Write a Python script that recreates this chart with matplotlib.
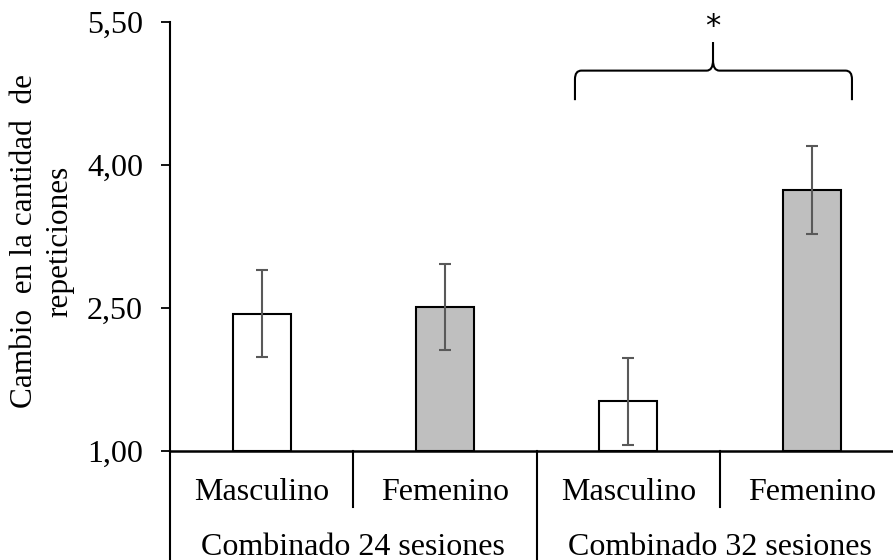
import numpy as np
import matplotlib
matplotlib.use("Agg")
import matplotlib.pyplot as plt
from matplotlib.path import Path
from matplotlib.patches import PathPatch

plt.rcParams["font.family"] = ["Liberation Serif", "DejaVu Serif"]
plt.rcParams["font.size"] = 23

# datos
sexo = ["Masculino", "Femenino", "Masculino", "Femenino"]
grupos = ["Combinado 24 sesiones", "Combinado 32 sesiones"]
medias = [2.44, 2.51, 1.52, 3.74]
errores = [0.455, 0.45, 0.455, 0.46]
colores = ["white", "#bfbfbf", "white", "#bfbfbf"]
yticks = [1.0, 2.5, 4.0, 5.5]

W, H = 893, 560
fig = plt.figure(figsize=(W / 100, H / 100), dpi=100)
ax = fig.add_axes([170 / W, 109 / H, 733.3 / W, 429 / H])

x = np.arange(len(medias))
ax.bar(x, np.array(medias) - 1.0, bottom=1.0, width=0.316, color=colores,
       edgecolor="black", linewidth=1.5, zorder=2)
ax.errorbar(x, medias, yerr=errores, fmt="none", ecolor="#595959",
            elinewidth=1.5, capsize=4.5, capthick=1.5, zorder=3)

ax.set_xlim(-0.5, 3.5)
ax.set_ylim(1.0, 5.5)
ax.set_yticks(yticks)
ax.set_yticklabels([f"{v:.2f}".replace(".", ",") for v in yticks])
ax.tick_params(axis="y", direction="out", length=6.5, width=1.3, pad=13)
ax.set_xticks([])
for s in ["top", "right"]:
    ax.spines[s].set_visible(False)
ax.spines["left"].set_linewidth(1.5)
ax.spines["bottom"].set_linewidth(1.8)

# etiquetas de categorias en dos niveles
tr = ax.get_xaxis_transform()
for i, lab in enumerate(sexo):
    ax.text(i, -0.0956, lab, transform=tr, ha="center", va="center")
for j, lab in enumerate(grupos):
    ax.text(2 * j + 0.5, -0.224, lab, transform=tr, ha="center", va="center")
for xs in [0.5, 2.5]:
    ax.plot([xs, xs], [0, -0.1305], transform=tr, color="black", lw=1.5, clip_on=False)
for xs in [-0.5, 1.5, 3.5]:
    ax.plot([xs, xs], [0, -0.26], transform=tr, color="black", lw=1.5, clip_on=False)

# llave de significancia
x0, x1, xc = 1.709, 3.22, 2.462
yb, yh, yt = 4.68, 4.99, 5.29
dx, dy = 0.035, 0.09
verts = [(x0, yb), (x0, yh - dy), (x0, yh), (x0 + dx, yh),
         (xc - dx, yh), (xc, yh), (xc, yh + dy * 1.2), (xc, yt),
         (xc, yh + dy * 1.2), (xc, yh), (xc + dx, yh),
         (x1 - dx, yh), (x1, yh), (x1, yh - dy), (x1, yb)]
codes = [Path.MOVETO, Path.LINETO, Path.CURVE3, Path.CURVE3,
         Path.LINETO, Path.CURVE3, Path.CURVE3, Path.LINETO,
         Path.MOVETO, Path.CURVE3, Path.CURVE3,
         Path.LINETO, Path.CURVE3, Path.CURVE3, Path.LINETO]
ax.add_patch(PathPatch(Path(verts, codes), fill=False, edgecolor="black",
                       lw=1.5, clip_on=False))
ax.text(xc, 5.45, "*", ha="center", va="center", fontsize=22,
        family=["DejaVu Sans"], clip_on=False)

# titulo del eje y (dos lineas, la primera justificada)
fig.text(25 / W, 1 - 241 / H, "Cambio  en la cantidad  de",
         rotation=90, ha="center", va="center", fontsize=22.5)
fig.text(60 / W, 1 - 241 / H, "repeticiones",
         rotation=90, ha="center", va="center", fontsize=22.5)

fig.savefig("out.png", dpi=100)
